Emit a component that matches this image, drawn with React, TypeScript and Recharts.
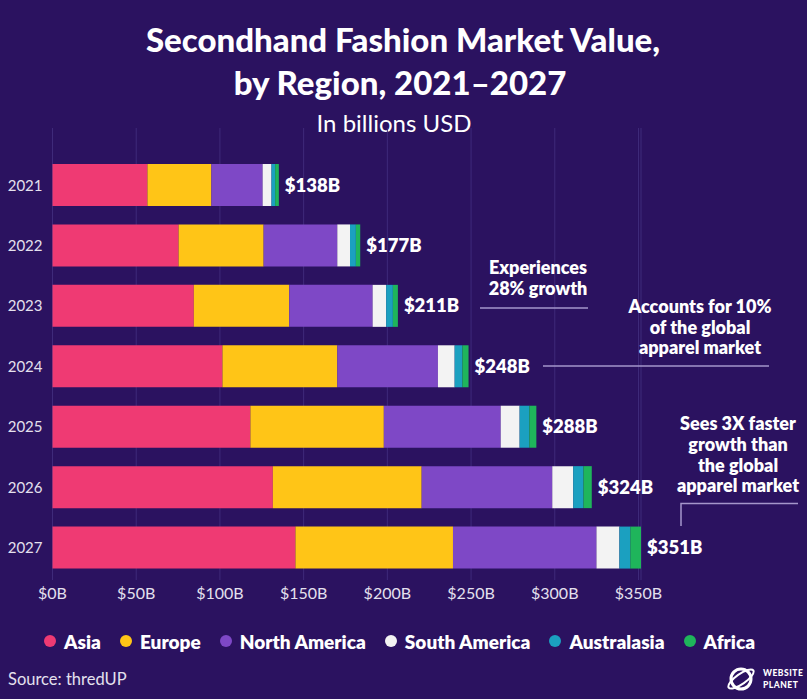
import React from "react";
import { Bar, BarChart, CartesianGrid, LabelList, XAxis, YAxis } from "recharts";

const years = ["2021", "2022", "2023", "2024", "2025", "2026", "2027"];
const asia = [56.7, 75.3, 84.4, 101.5, 118.2, 131.6, 145.1];
const europe = [38.2, 50.8, 57.0, 68.6, 79.7, 88.9, 94.1];
const northAmerica = [30.6, 44.0, 49.8, 60.1, 69.8, 78.0, 85.7];
const southAmerica = [5.3, 7.6, 8.1, 10.0, 11.3, 12.5, 13.7];
const australasia = [2.2, 3.5, 4.0, 4.6, 5.8, 6.1, 6.5];
const africa = [2.2, 2.6, 3.0, 3.7, 4.2, 5.0, 6.4];
const totals = [138, 177, 211, 248, 288, 324, 351];
const xTicks = [0, 50, 100, 150, 200, 250, 300, 350];

const REGIONS = [
  { key: "asia", name: "Asia", color: "#ef3a73" },
  { key: "europe", name: "Europe", color: "#ffc517" },
  { key: "northAmerica", name: "North America", color: "#7e48c6" },
  { key: "southAmerica", name: "South America", color: "#f3f3f3" },
  { key: "australasia", name: "Australasia", color: "#1ba0c0" },
  { key: "africa", name: "Africa", color: "#1fb55b" },
];

const BG = "#2b1260";
const FONT = "Lato, 'Open Sans', sans-serif";

const data = years.map((year, i) => ({
  year,
  asia: asia[i],
  europe: europe[i],
  northAmerica: northAmerica[i],
  southAmerica: southAmerica[i],
  australasia: australasia[i],
  africa: africa[i],
  total: totals[i],
}));

function Text({ x, y, size, weight, children, color = "#ffffff" }: any) {
  return (
    <div
      style={{
        position: "absolute",
        left: x - 300,
        width: 600,
        top: y - size * 0.6,
        lineHeight: `${size * 1.2}px`,
        fontSize: size,
        fontWeight: weight,
        color,
        textAlign: "center",
        whiteSpace: "nowrap",
      }}
    >
      {children}
    </div>
  );
}

export default function App() {
  return (
    <div
      style={{
        position: "absolute",
        left: 0,
        top: 0,
        width: 807,
        height: 699,
        background: BG,
        fontFamily: FONT,
        overflow: "hidden",
      }}
    >
      <Text x={403} y={40} size={33} weight={900}>Secondhand Fashion Market Value,</Text>
      <Text x={400} y={83} size={33} weight={900}>by Region, 2021–2027</Text>
      <Text x={394} y={123} size={24} weight={400}>In billions USD</Text>

      <div style={{ position: "absolute", left: 0, top: 0 }}>
        <BarChart
          width={807}
          height={699}
          data={data}
          layout="vertical"
          margin={{ top: 128, right: 166, left: 8, bottom: 89 }}
        >
          <CartesianGrid horizontal={false} stroke="#3f2a7a" strokeWidth={1} />
          <XAxis
            type="number"
            domain={[0, 350]}
            ticks={xTicks}
            tickFormatter={(v: number) => `$${v}B`}
            axisLine={false}
            tickLine={false}
            height={30}
            tick={{ fill: "#e4e0ee", fontSize: 16, fontFamily: FONT }}
          />
          <YAxis
            type="category"
            dataKey="year"
            width={44.5}
            axisLine={false}
            tickLine={false}
            tickMargin={4}
            padding={{ top: 27, bottom: 2 }}
            tick={{ fill: "#e4e0ee", fontSize: 15, fontFamily: FONT }}
          />
          {REGIONS.map((r, idx) => (
            <Bar
              key={r.key}
              dataKey={r.key}
              name={r.name}
              stackId="a"
              fill={r.color}
              barSize={42}
              isAnimationActive={false}
            >
              {idx === REGIONS.length - 1 && (
                <LabelList
                  dataKey="total"
                  position="right"
                  offset={6}
                  formatter={(v: number) => `$${v}B`}
                  style={{ fill: "#ffffff", fontSize: 18.5, fontWeight: 800, fontFamily: FONT }}
                />
              )}
            </Bar>
          ))}
        </BarChart>
      </div>

      <svg width={807} height={699} style={{ position: "absolute", left: 0, top: 0, pointerEvents: "none" }}>
        <line x1={480} y1={308} x2={588} y2={308} stroke="#a596cb" strokeWidth={1.5} />
        <line x1={543} y1={366} x2={769} y2={366} stroke="#a596cb" strokeWidth={1.5} />
        <polyline points="681,526 681,503.5 798,503.5" fill="none" stroke="#a596cb" strokeWidth={1.5} />
      </svg>

      <Text x={538} y={268} size={18} weight={800}>Experiences</Text>
      <Text x={538} y={289} size={18} weight={800}>28% growth</Text>
      <Text x={700} y={307} size={18} weight={800}>Accounts for 10%</Text>
      <Text x={700} y={328} size={18} weight={800}>of the global</Text>
      <Text x={700} y={348} size={18} weight={800}>apparel market</Text>
      <Text x={738} y={424} size={18} weight={800}>Sees 3X faster</Text>
      <Text x={738} y={445} size={18} weight={800}>growth than</Text>
      <Text x={738} y={466} size={18} weight={800}>the global</Text>
      <Text x={738} y={486} size={18} weight={800}>apparel market</Text>

      <div
        style={{
          position: "absolute",
          left: 44,
          width: 711,
          top: 629,
          height: 24,
          display: "flex",
          justifyContent: "space-between",
          alignItems: "center",
        }}
      >
        {REGIONS.map((r) => (
          <div key={r.key} style={{ display: "flex", alignItems: "center", gap: 8 }}>
            <span style={{ width: 12, height: 12, borderRadius: 6, background: r.color, display: "inline-block" }} />
            <span style={{ color: "#ffffff", fontSize: 19, fontWeight: 800 }}>{r.name}</span>
          </div>
        ))}
      </div>

      <div style={{ position: "absolute", left: 8, top: 669, fontSize: 16.5, color: "#e4e0ee" }}>Source: thredUP</div>

      <svg width={80} height={34} style={{ position: "absolute", left: 727, top: 662 }}>
        <circle cx={14} cy={17} r={10} fill="none" stroke="#ffffff" strokeWidth={3} />
        <ellipse cx={14} cy={17} rx={15} ry={5} fill="none" stroke="#ffffff" strokeWidth={2} transform="rotate(-35 14 17)" />
        <text x={36} y={14} fontSize={8.5} fontWeight={900} fill="#ffffff" fontFamily={FONT} letterSpacing={0.5}>WEBSITE</text>
        <text x={36} y={26} fontSize={8.5} fontWeight={900} fill="#ffffff" fontFamily={FONT} letterSpacing={0.5}>PLANET</text>
      </svg>
    </div>
  );
}
